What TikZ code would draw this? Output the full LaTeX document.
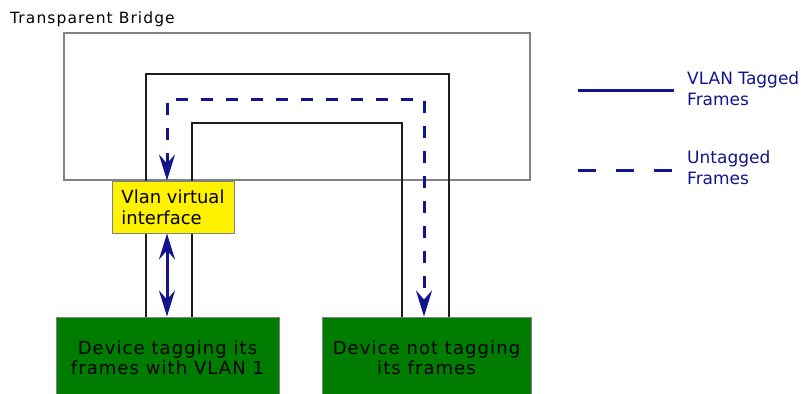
\documentclass[tikz,border=0pt]{standalone}
\usepackage{fontspec}
\setmainfont{DejaVu Sans}
\newfontfamily\spacedfont[LetterSpace=6]{DejaVu Sans}
\newfontfamily\titlefont[LetterSpace=7]{DejaVu Sans}
\usetikzlibrary{arrows.meta}
\definecolor{navyc}{RGB}{20,20,140}
\definecolor{devgreen}{RGB}{0,125,0}
\definecolor{boxgray}{RGB}{130,130,130}
\definecolor{pathblack}{RGB}{30,30,30}
\pgfdeclarelayer{bg}
\pgfsetlayers{bg,main}
\tikzset{
  bridgebox/.style={draw=boxgray, line width=1.2pt, minimum width=466pt, minimum height=147pt, inner sep=0pt},
  vlanbox/.style={draw=boxgray, fill=yellow, line width=1pt, minimum width=122pt, minimum height=52pt, inner sep=0pt, align=left, font=\fontsize{18}{21}\selectfont},
  devbox/.style={draw=boxgray, fill=devgreen, line width=1pt, inner sep=0pt, align=center, font=\spacedfont\fontsize{18}{19}\selectfont},
  outerpath/.style={draw=pathblack, line width=2pt},
  innerpath/.style={draw=pathblack, line width=1.4pt},
  untagged/.style={draw=navyc, line width=3pt, dash pattern=on 12pt off 13pt},
  untaggedkey/.style={draw=navyc, line width=3pt, dash pattern=on 18pt off 20pt},
  tagged/.style={draw=navyc, line width=3pt},
  navytip/.style={>={Stealth[length=26pt,width=16pt,inset=9pt]}, <->},
  legendtext/.style={text=navyc, font=\fontsize{17}{21}\selectfont, align=left, inner sep=0pt, anchor=north west},
  titletext/.style={anchor=base west, inner sep=0pt, font=\titlefont\fontsize{15.5}{18}\selectfont}
}
\begin{document}
\begin{tikzpicture}[x=1pt,y=-1pt]
\useasboundingbox (0,0) rectangle (807,394);

\node[titletext] (title) at (10,23) {Transparent Bridge};

\node[vlanbox] (vlan) at (173,207) {Vlan virtual\\interface};
\node[devbox, minimum width=223pt, minimum height=87.4pt] (dev1) at (167.5,360.7) {\strut Device tagging its\\\strut frames with VLAN 1};
\node[devbox, minimum width=209pt, minimum height=87.4pt] (dev2) at (426.5,360.7) {\strut Device not tagging\\\strut its frames};

\coordinate (otl) at (146,74);
\coordinate (otr) at (449,74);
\coordinate (itl) at (192,123);
\coordinate (itr) at (402,123);
\coordinate (dtl) at (167,99);
\coordinate (dtr) at (424,99);

\begin{pgfonlayer}{bg}
  \fill[white] (0,0) rectangle (807,394);
  \node[bridgebox] (bridge) at (297,106.5) {};
  \draw[outerpath] (dev1.north -| otl) -- (otl) -- (otr) -- (dev2.north -| otr);
  \draw[innerpath] (dev1.north -| itl) -- (itl) -- (itr) -- (dev2.north -| itr);
\end{pgfonlayer}

\draw[untagged, navytip] (vlan.north -| dtl) -- (dtl) -- (dtr) -- (dev2.north -| dtr);
\draw[tagged, navytip] (vlan.south -| dtl) -- (dev1.north -| dtl);

% legend
\coordinate (ka1) at (578,90);
\coordinate (kb1) at (674,90);
\coordinate (ka2) at (578,170);
\coordinate (kb2) at (674,170);
\draw[tagged] (ka1) -- (kb1);
\draw[untaggedkey] (ka2) -- (kb2);
\node[legendtext] (lt1) at (687,69.3) {\strut VLAN Tagged\\\strut Frames};
\node[legendtext] (lt2) at (687,148.3) {\strut Untagged\\\strut Frames};
\end{tikzpicture}
\end{document}
